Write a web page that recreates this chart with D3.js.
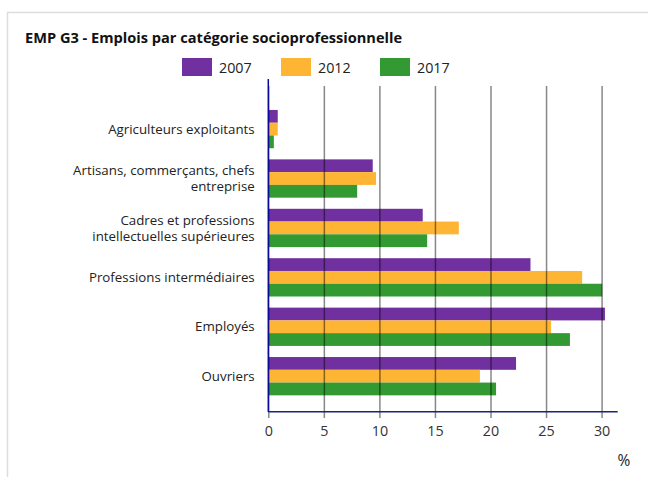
<!DOCTYPE html>
<html>
<head>
<meta charset="utf-8">
<script src="https://cdn.jsdelivr.net/npm/d3@7"></script>
<style>
  body { margin: 0; background: #fff; }
  text { font-family: "Open Sans", sans-serif; fill: #222; }
</style>
</head>
<body>
<svg width="648" height="477"></svg>
<script>
// categories and values (%)
const categories = [
    ['Agriculteurs exploitants'],
    ['Artisans, commerçants, chefs', 'entreprise'],
    ['Cadres et professions', 'intellectuelles supérieures'],
    ['Professions intermédiaires'],
    ['Employés'],
    ['Ouvriers']
];
const years = ['2007', '2012', '2017'];
const values2007 = [0.85, 9.4, 13.9, 23.6, 30.3, 22.3];
const values2012 = [0.85, 9.7, 17.15, 28.25, 25.45, 19.05];
const values2017 = [0.5, 8.0, 14.3, 30.05, 27.15, 20.5];
const xTicks = [0, 5, 10, 15, 20, 25, 30];
const colors = ['#7030a0', '#ffb534', '#339933'];

const svg = d3.select('svg');

// light panel border
svg.append('rect')
    .attr('x', 7.5).attr('y', 12.5)
    .attr('width', 700).attr('height', 500)
    .attr('fill', 'none')
    .attr('stroke', '#ddd')
    .attr('stroke-width', 1.5);

svg.append('text')
    .attr('x', 25).attr('y', 42.7)
    .style('font-size', '14.6px')
    .style('font-weight', 'bold')
    .style('fill', '#111')
    .text('EMP G3 - Emplois par catégorie socioprofessionnelle');

const series = [values2007, values2012, values2017];
const data = categories.map((c, i) => ({
    key: c.join(' '),
    lines: c,
    vals: series.map(s => s[i])
}));

const xScale = d3.scaleLinear()
    .domain([0, 31.45])
    .range([268.3, 617.7]);

const yScale = d3.scaleBand()
    .domain(data.map(d => d.key))
    .range([104.4, 400.9])
    .paddingInner(0.225)
    .paddingOuter(0.1125);

const yInner = d3.scaleBand()
    .domain(years)
    .range([0, yScale.bandwidth()]);

// bars
const groups = svg.append('g').selectAll('g').data(data)
    .enter().append('g')
    .attr('transform', d => `translate(0, ${yScale(d.key)})`);

groups.selectAll('rect').data(d => d.vals)
    .enter().append('rect')
    .attr('x', xScale(0))
    .attr('y', (v, j) => yInner(years[j]))
    .attr('width', v => xScale(v) - xScale(0))
    .attr('height', yInner.bandwidth())
    .attr('fill', (v, j) => colors[j]);

// grid lines + ticks (drawn over the bars, semi transparent)
const xAxis = d3.axisBottom(xScale)
    .tickValues(xTicks)
    .tickSize(332)
    .tickPadding(8)
    .tickFormat(d3.format('d'));

const gx = svg.append('g')
    .attr('transform', 'translate(0, 86)')
    .call(xAxis);
gx.select('.domain').remove();
gx.selectAll('line')
    .attr('stroke', '#000')
    .attr('stroke-opacity', 0.47)
    .attr('stroke-width', 1.5);
gx.selectAll('text')
    .style('font-size', '14.3px')
    .style('fill', '#333');

// axis lines
svg.append('line')
    .attr('x1', xScale(0)).attr('x2', xScale(0))
    .attr('y1', 79).attr('y2', 412)
    .attr('stroke', '#0a0a96')
    .attr('stroke-width', 1.5);
svg.append('line')
    .attr('x1', xScale(0)).attr('x2', xScale.range()[1])
    .attr('y1', 411.7).attr('y2', 411.7)
    .attr('stroke', '#1e237a')
    .attr('stroke-width', 1.5);

// category labels
const labels = svg.append('g').selectAll('text').data(data)
    .enter().append('text')
    .attr('text-anchor', 'end')
    .style('font-size', '13.3px')
    .attr('transform', d => `translate(254.7, ${yScale(d.key) + yScale.bandwidth() / 2})`);

labels.selectAll('tspan').data(d => d.lines.map((t, i) => ({t, i, n: d.lines.length})))
    .enter().append('tspan')
    .attr('x', 0)
    .attr('y', d => (d.i - (d.n - 1) / 2) * 16 + 4.6)
    .text(d => d.t);

// legend
const legendX = [182, 281, 380];
const legend = svg.append('g').selectAll('g').data(years)
    .enter().append('g')
    .attr('transform', (d, i) => `translate(${legendX[i]}, 58)`);
legend.append('rect')
    .attr('width', 30).attr('height', 18)
    .attr('fill', (d, i) => colors[i]);
legend.append('text')
    .attr('x', 37).attr('y', 15.3)
    .style('font-size', '14.3px')
    .text(d => d);

svg.append('text')
    .attr('x', 624).attr('y', 466)
    .attr('text-anchor', 'middle')
    .style('font-size', '15.5px')
    .text('%');
</script>
</body>
</html>
